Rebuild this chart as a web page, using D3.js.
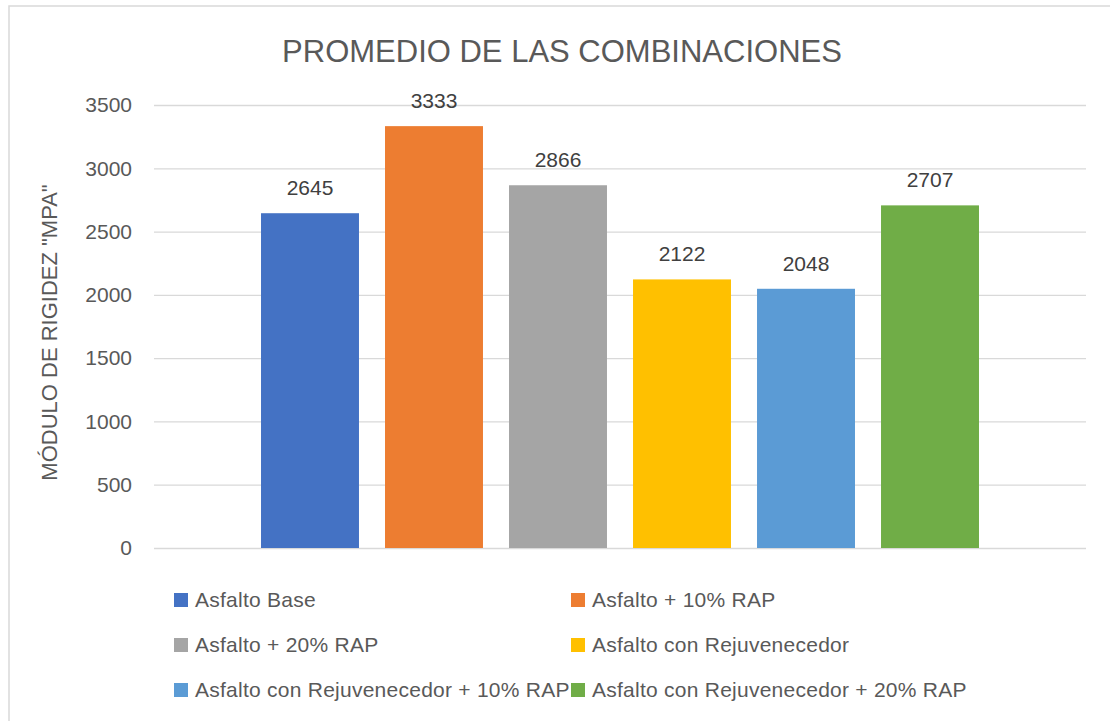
<!DOCTYPE html>
<html>
<head>
<meta charset="utf-8">
<script src="https://cdn.jsdelivr.net/npm/d3@7"></script>
<style>
  body { margin: 0; background: #fff; }
  svg { display: block; font-family: "Liberation Sans", Arial, sans-serif; }
</style>
</head>
<body>
<svg width="1110" height="721"></svg>
<script>
// the data
var series = ["Asfalto Base", "Asfalto + 10% RAP", "Asfalto + 20% RAP",
              "Asfalto con Rejuvenecedor", "Asfalto con Rejuvenecedor + 10% RAP",
              "Asfalto con Rejuvenecedor + 20% RAP"];
var values = [2645, 3333, 2866, 2122, 2048, 2707];
var colors = ["#4472C4", "#ED7D31", "#A5A5A5", "#FFC000", "#5B9BD5", "#70AD47"];
var yTicks = [0, 500, 1000, 1500, 2000, 2500, 3000, 3500];

var title = "PROMEDIO DE LAS COMBINACIONES";
var yLabel = 'MÓDULO DE RIGIDEZ "MPA"';

var margin = {top: 105, right: 24, bottom: 173, left: 154},
    width = 1110 - margin.left - margin.right,
    height = 721 - margin.top - margin.bottom;

var svg = d3.select("svg");

// chart frame (only top/left visible, rest cut off)
svg.append("rect")
    .attr("x", 9).attr("y", 6)
    .attr("width", 1300).attr("height", 900)
    .attr("fill", "none")
    .attr("stroke", "#d9d9d9")
    .attr("stroke-width", 1.5);

var g = svg.append("g")
    .attr("transform", "translate(" + margin.left + "," + margin.top + ")");

var y = d3.scaleLinear()
    .domain([0, 3500])
    .range([height, 0]);

var x = d3.scaleBand()
    .domain(series)
    .range([0, width])
    .paddingInner(0.21)
    .paddingOuter(0.863);

// gridlines + tick labels
var yAxis = g.append("g")
    .call(d3.axisLeft(y).tickValues(yTicks).tickFormat(d3.format("d"))
        .tickSize(-width).tickPadding(22));
yAxis.select(".domain").remove();
yAxis.selectAll("line")
    .attr("stroke", "#d9d9d9")
    .attr("stroke-width", 1.3);
yAxis.selectAll("text")
    .attr("fill", "#595959")
    .style("font-size", "21px")
    .style("font-family", "'Liberation Sans', Arial, sans-serif");

// bars
g.selectAll(".bar")
    .data(values)
    .enter().append("rect")
    .attr("class", "bar")
    .attr("x", function(d, i) { return x(series[i]); })
    .attr("y", function(d) { return y(d); })
    .attr("width", x.bandwidth())
    .attr("height", function(d) { return height - y(d); })
    .attr("fill", function(d, i) { return colors[i]; });

// value labels
g.selectAll(".lbl")
    .data(values)
    .enter().append("text")
    .attr("class", "lbl")
    .attr("x", function(d, i) { return x(series[i]) + x.bandwidth() / 2; })
    .attr("y", function(d) { return y(d) - 18; })
    .attr("text-anchor", "middle")
    .attr("fill", "#404040")
    .style("font-size", "21px")
    .text(function(d) { return d; });

// title
svg.append("text")
    .attr("x", 562)
    .attr("y", 62)
    .attr("text-anchor", "middle")
    .attr("fill", "#595959")
    .style("font-size", "31px")
    .text(title);

// y axis label
svg.append("text")
    .attr("transform", "translate(57," + (margin.top + height / 2 + 6) + ") rotate(-90)")
    .attr("text-anchor", "middle")
    .attr("fill", "#595959")
    .style("font-size", "22px")
    .text(yLabel);

// legend, 2 columns
var legend = svg.append("g").selectAll("g")
    .data(series)
    .enter().append("g")
    .attr("transform", function(d, i) {
        return "translate(" + (174 + (i % 2) * 397) + "," + (600 + Math.floor(i / 2) * 45) + ")";
    });
legend.append("rect")
    .attr("x", 0).attr("y", -7)
    .attr("width", 14).attr("height", 14)
    .attr("fill", function(d, i) { return colors[i]; });
legend.append("text")
    .attr("x", 21)
    .attr("y", 7)
    .attr("fill", "#595959")
    .style("font-size", "21px")
    .style("letter-spacing", "0.25px")
    .text(function(d) { return d; });
</script>
</body>
</html>
